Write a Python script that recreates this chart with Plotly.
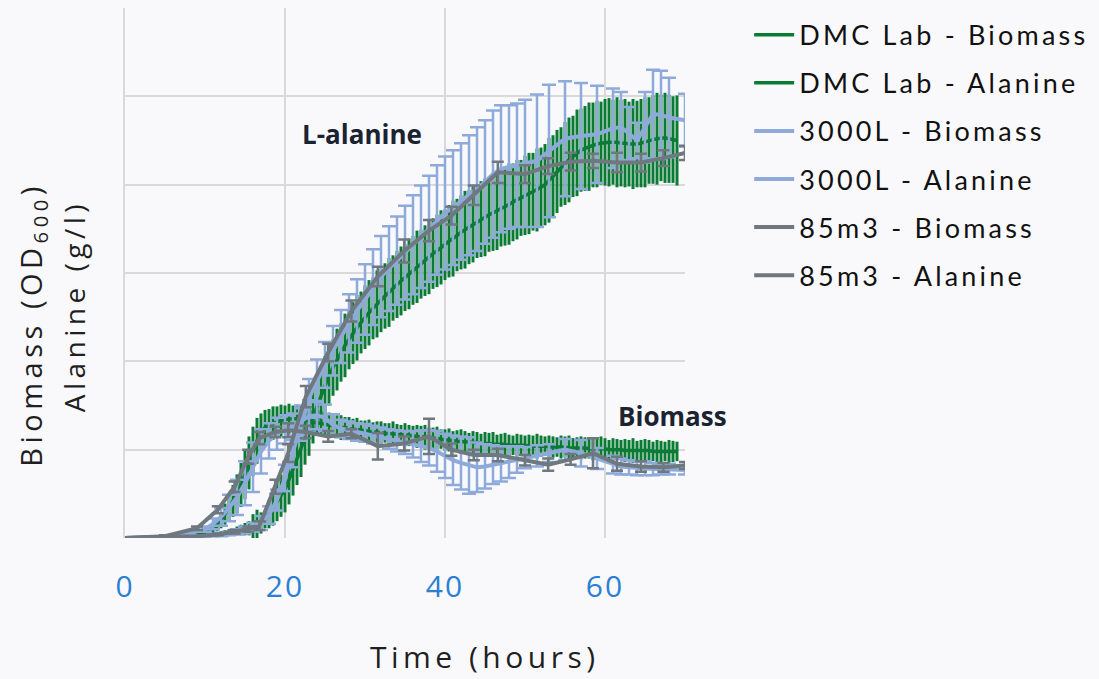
import plotly.graph_objects as go

# ---------------- DATA ----------------
green_time = [
    0, 0.5, 1, 1.5, 2, 2.5, 3, 3.5, 4, 4.5,
    5, 5.5, 6, 6.5, 7, 7.5, 8, 8.5, 9, 9.5,
    10, 10.5, 11, 11.5, 12, 12.5, 13, 13.5, 14, 14.5,
    15, 15.5, 16, 16.5, 17, 17.5, 18, 18.5, 19, 19.5,
    20, 20.5, 21, 21.5, 22, 22.5, 23, 23.5, 24, 24.5,
    25, 25.5, 26, 26.5, 27, 27.5, 28, 28.5, 29, 29.5,
    30, 30.5, 31, 31.5, 32, 32.5, 33, 33.5, 34, 34.5,
    35, 35.5, 36, 36.5, 37, 37.5, 38, 38.5, 39, 39.5,
    40, 40.5, 41, 41.5, 42, 42.5, 43, 43.5, 44, 44.5,
    45, 45.5, 46, 46.5, 47, 47.5, 48, 48.5, 49, 49.5,
    50, 50.5, 51, 51.5, 52, 52.5, 53, 53.5, 54, 54.5,
    55, 55.5, 56, 56.5, 57, 57.5, 58, 58.5, 59, 59.5,
    60, 60.5, 61, 61.5, 62, 62.5, 63, 63.5, 64, 64.5,
    65, 65.5, 66, 66.5, 67, 67.5, 68, 68.5, 69,
]
dmc_alanine = [
    0, 0, 0, 0, 0, 0, 0, 0, 0, 0,
    0, 0, 0, 0.1, 0.1, 0.1, 0.1, 0.2, 0.2, 0.2,
    0.3, 0.3, 0.4, 0.4, 0.5, 0.6, 0.6, 0.7, 0.8, 0.9,
    1.0, 1.1, 1.2, 1.4, 1.7, 2.1, 2.7, 3.4, 4.1, 4.8,
    5.5, 6.6, 7.8, 8.9, 10.0, 11.3, 12.5, 13.8, 15.0, 16.2,
    17.3, 18.4, 19.3, 20.2, 21.0, 21.8, 22.5, 23.2, 23.8, 24.4,
    25.0, 25.5, 26.0, 26.5, 26.9, 27.4, 27.8, 28.3, 28.7, 29.1,
    29.5, 29.9, 30.3, 30.7, 31.0, 31.4, 31.8, 32.2, 32.5, 32.9,
    33.2, 33.6, 33.9, 34.3, 34.6, 34.9, 35.2, 35.5, 35.8, 36.1,
    36.3, 36.6, 36.8, 37.1, 37.3, 37.5, 37.8, 38.0, 38.3, 38.5,
    38.8, 39.0, 39.2, 39.4, 39.7, 40.0, 40.5, 41.0, 41.5, 42.0,
    42.4, 42.8, 43.2, 43.6, 43.9, 44.1, 44.3, 44.5, 44.6, 44.7,
    44.8, 44.8, 44.8, 44.8, 44.7, 44.7, 44.6, 44.6, 44.6, 44.7,
    44.8, 45.0, 45.1, 45.2, 45.3, 45.3, 45.2, 45.1, 45.0,
]
dmc_alanine_err = [
    0, 0, 0, 0, 0, 0, 0, 0, 0, 0,
    0, 0, 0, 0.1, 0.1, 0.1, 0.1, 0.1, 0.1, 0.1,
    0.2, 0.2, 0.2, 0.3, 0.3, 0.3, 0.4, 0.4, 0.5, 0.6,
    0.7, 0.8, 1.5, 1.8, 1.2, 1.0, 1.6, 2.0, 2.2, 2.4,
    2.6, 2.8, 3.0, 2.9, 3.1, 3.0, 3.2, 3.1, 3.3, 3.2,
    3.3, 3.4, 3.2, 3.5, 3.3, 3.6, 3.4, 3.5, 3.7, 3.5,
    3.6, 3.7, 3.5, 3.8, 3.6, 3.7, 3.9, 3.7, 3.8, 3.9,
    3.8, 4.0, 3.9, 4.1, 3.9, 4.0, 4.2, 4.0, 4.1, 4.2,
    4.0, 4.1, 4.3, 4.1, 4.2, 4.4, 4.2, 4.3, 4.1, 4.3,
    4.4, 4.2, 4.3, 4.5, 4.3, 4.4, 4.6, 4.4, 4.5, 4.3,
    4.5, 4.6, 4.4, 4.7, 4.5, 4.6, 4.8, 4.6, 4.7, 4.5,
    4.7, 4.8, 4.6, 4.9, 4.7, 4.8, 5.0, 4.8, 4.9, 4.7,
    4.9, 5.0, 4.8, 5.1, 4.9, 5.0, 4.8, 5.1, 4.9, 5.0,
    5.1, 4.9, 5.0, 5.2, 4.9, 5.1, 5.0, 4.9, 5.1,
]
dmc_biomass = [
    0, 0, 0, 0, 0, 0, 0, 0, 0, 0,
    0, 0, 0.1, 0.1, 0.1, 0.2, 0.2, 0.3, 0.4, 0.5,
    0.6, 0.8, 1.1, 1.5, 2.0, 2.7, 3.4, 4.2, 5.0, 6.0,
    7.2, 8.5, 9.8, 11.0, 11.9, 12.5, 12.8, 13.0, 13.2, 13.3,
    13.4, 13.5, 13.5, 13.5, 13.4, 13.4, 13.3, 13.2, 13.1, 13.0,
    12.9, 12.8, 12.7, 12.6, 12.5, 12.5, 12.4, 12.3, 12.3, 12.2,
    12.1, 12.1, 12.0, 12.0, 11.9, 11.9, 11.8, 11.8, 11.7, 11.7,
    11.7, 11.6, 11.6, 11.5, 11.5, 11.4, 11.4, 11.3, 11.3, 11.2,
    11.1, 11.1, 11.0, 11.0, 10.9, 10.9, 10.8, 10.8, 10.8, 10.7,
    10.7, 10.7, 10.6, 10.6, 10.6, 10.6, 10.5, 10.5, 10.5, 10.5,
    10.5, 10.4, 10.4, 10.4, 10.4, 10.4, 10.3, 10.3, 10.3, 10.3,
    10.3, 10.2, 10.2, 10.2, 10.2, 10.2, 10.1, 10.1, 10.1, 10.1,
    10.1, 10.0, 10.0, 10.0, 10.0, 9.9, 9.9, 9.9, 9.9, 9.9,
    9.9, 9.9, 9.8, 9.8, 9.8, 9.8, 9.8, 9.8, 9.8,
]
dmc_biomass_err = [
    0, 0, 0, 0, 0, 0, 0, 0, 0, 0,
    0, 0, 0, 0, 0.1, 0.1, 0.1, 0.1, 0.2, 0.2,
    0.3, 0.4, 0.5, 0.7, 0.9, 1.2, 1.5, 1.8, 2.2, 2.5,
    2.8, 3.0, 2.8, 2.6, 2.2, 2.0, 1.8, 1.9, 1.7, 1.8,
    1.6, 1.7, 1.5, 1.6, 1.4, 1.5, 1.4, 1.3, 1.5, 1.4,
    1.3, 1.4, 1.2, 1.3, 1.4, 1.2, 1.3, 1.2, 1.3, 1.1,
    1.2, 1.3, 1.1, 1.2, 1.3, 1.1, 1.2, 1.4, 1.2, 1.1,
    1.3, 1.2, 1.1, 1.3, 1.2, 1.4, 1.1, 1.2, 1.3, 1.1,
    1.2, 1.3, 1.1, 1.2, 1.4, 1.2, 1.1, 1.3, 1.2, 1.1,
    1.3, 1.2, 1.4, 1.1, 1.2, 1.3, 1.2, 1.1, 1.3, 1.2,
    1.1, 1.3, 1.2, 1.4, 1.2, 1.1, 1.3, 1.2, 1.1, 1.3,
    1.2, 1.4, 1.1, 1.2, 1.3, 1.2, 1.1, 1.3, 1.2, 1.4,
    1.2, 1.1, 1.3, 1.2, 1.1, 1.3, 1.2, 1.4, 1.1, 1.2,
    1.3, 1.2, 1.1, 1.3, 1.2, 1.1, 1.3, 1.2, 1.1,
]

l3000_time = [
    0, 4, 8, 10, 11, 12, 13, 14, 15, 16,
    17, 18, 19, 20, 21, 22, 23, 24, 25, 26,
    27, 28, 29, 30, 31, 32, 33, 34, 35, 36,
    37, 38, 39, 40, 41, 42, 43, 44, 45, 46,
    47, 48, 49, 50, 51.5, 53, 55, 57, 59, 61,
    62, 63, 64, 65, 66, 67, 68, 70,
]
l3000_biomass = [
    0, 0.1, 0.5, 1.0, 1.6, 2.4, 3.4, 4.6, 6.2, 8.0,
    9.8, 11.0, 11.8, 12.3, 12.6, 13.2, 13.8, 13.9, 13.6, 12.8,
    12.4, 12.2, 12.0, 11.9, 11.7, 11.5, 11.2, 11.0, 10.8, 10.6,
    10.4, 10.2, 9.8, 9.3, 8.8, 8.5, 8.2, 8.0, 8.1, 8.3,
    8.4, 8.6, 8.9, 9.1, 9.3, 9.6, 10.0, 9.6, 9.0, 8.3,
    8.1, 8.0, 7.9, 7.9, 7.8, 7.8, 7.8, 7.7,
]
l3000_biomass_err = [
    0, 0, 0.2, 0.3, 0.6, 1.0, 1.5, 2.0, 2.5, 2.8,
    2.5, 2.0, 1.8, 1.6, 1.5, 1.5, 1.8, 1.6, 1.5, 1.2,
    1.0, 1.0, 1.0, 1.0, 1.0, 1.0, 1.1, 1.2, 1.3, 1.5,
    1.8, 2.0, 2.3, 2.5, 2.8, 3.0, 3.2, 2.8, 2.5, 2.2,
    2.0, 1.8, 1.5, 1.2, 1.2, 1.0, 1.2, 1.5, 1.2, 1.0,
    0.9, 0.8, 0.8, 0.8, 0.7, 0.6, 0.6, 0.5,
]
l3000_alanine = [
    0, 0, 0.1, 0.2, 0.3, 0.4, 0.5, 0.7, 0.9, 1.2,
    1.7, 2.6, 4.3, 6.8, 9.8, 13.0, 15.8, 17.8, 19.6, 21.2,
    22.8, 24.3, 25.7, 27.0, 28.4, 29.6, 30.5, 31.4, 32.3, 33.2,
    34.1, 35.0, 36.0, 36.8, 37.4, 38.1, 38.8, 39.5, 40.3, 41.2,
    41.8, 42.0, 42.2, 42.4, 42.7, 43.8, 45.2, 45.5, 45.7, 46.4,
    46.5, 45.8, 45.0, 46.5, 48.0, 47.9, 47.6, 47.3,
]
l3000_alanine_err = [
    0, 0, 0, 0.1, 0.1, 0.2, 0.2, 0.3, 0.4, 0.5,
    0.8, 1.0, 1.2, 1.5, 1.8, 2.0, 2.2, 2.4, 2.6, 2.8,
    3.0, 3.3, 3.6, 4.0, 4.3, 4.6, 4.8, 5.0, 5.3, 5.6,
    5.8, 6.0, 6.2, 6.4, 6.5, 6.6, 6.8, 7.0, 7.0, 7.2,
    7.2, 7.0, 7.0, 7.2, 7.5, 7.5, 6.5, 6.0, 5.5, 4.5,
    4.0, 3.0, 2.0, 4.0, 5.0, 5.0, 4.5, 3.0,
]

m85_time = [
    0, 5, 9, 11.6, 13.7, 15.4, 16.8, 18.8, 20.4, 22.6,
    25.4, 28.3, 31.6, 34.9, 38.0, 40.8, 43.6, 46.6, 50.0, 52.9,
    55.7, 58.5, 61.5, 64.5, 67.3, 70.0,
]
m85_biomass = [
    0, 0.2, 1.1, 3.2, 5.8, 9.2, 11.3, 12.0, 12.2, 12.0,
    11.5, 11.8, 10.4, 10.7, 11.5, 10.0, 9.4, 9.4, 8.8, 8.3,
    8.9, 9.6, 8.4, 8.1, 8.0, 8.2,
]
m85_biomass_err = [
    0, 0.1, 0.2, 0.4, 0.6, 0.8, 0.7, 0.6, 0.8, 0.7,
    0.6, 0.5, 1.5, 0.8, 2.0, 0.7, 0.6, 0.7, 0.6, 0.7,
    0.6, 1.7, 0.8, 0.6, 0.5, 0.4,
]
m85_alanine = [
    0, 0.1, 0.2, 0.4, 0.7, 1.0, 1.4, 5.8, 9.6, 16.0,
    21.0, 25.7, 29.6, 32.5, 34.8, 36.5, 38.8, 41.4, 41.2, 42.1,
    42.6, 42.7, 42.5, 42.5, 43.0, 43.6,
]
m85_alanine_err = [
    0, 0, 0, 0.1, 0.2, 0.3, 0.5, 0.8, 1.0, 1.2,
    1.0, 1.2, 1.1, 1.3, 1.2, 1.0, 1.1, 1.2, 1.0, 0.9,
    1.0, 0.8, 1.1, 1.0, 0.9, 0.8,
]

x_ticks = [0, 20, 40, 60]
x_tick_labels = ["0", "20", "40", "60"]

# ---------------- STYLE ----------------
GREEN = "#0a7b34"
BLUE = "#8eaadb"
GREY = "#6f777f"
BG = "#f9f9fc"
GRID = "#d9d9d9"

series = [
    ("DMC Lab - Biomass", green_time, dmc_biomass, dmc_biomass_err, GREEN, 3.5, 0, 3),
    ("DMC Lab - Alanine", green_time, dmc_alanine, dmc_alanine_err, GREEN, 3.5, 0, 3),
    ("3000L - Biomass", l3000_time, l3000_biomass, l3000_biomass_err, BLUE, 4, 7, 2.5),
    ("3000L - Alanine", l3000_time, l3000_alanine, l3000_alanine_err, BLUE, 4, 7, 2.5),
    ("85m3 - Biomass", m85_time, m85_biomass, m85_biomass_err, GREY, 4, 6, 2.5),
    ("85m3 - Alanine", m85_time, m85_alanine, m85_alanine_err, GREY, 4, 6, 2.5),
]

fig = go.Figure()
for i, (name, t, y, e, col, lw, capw, eth) in enumerate(series):
    fig.add_trace(go.Scatter(
        x=t, y=y, name=name, mode="lines",
        line=dict(color=col, width=lw),
        error_y=dict(type="data", array=e, visible=True, color=col,
                     thickness=eth, width=capw),
        legendgroup=f"g{i}",
    ))


def px_ann(text, px, py, size, color, angle=0, bold=False):
    return dict(
        text=f"<b>{text}</b>" if bold else text,
        xref="paper", yref="paper",
        x=(px - 125) / 560, y=(538 - py) / 530,
        xanchor="center", yanchor="middle",
        showarrow=False, textangle=angle,
        font=dict(family="Open Sans", size=size, color=color),
    )


fig.update_layout(
    width=1099, height=679,
    margin=dict(l=125, r=414, t=8, b=141),
    paper_bgcolor=BG, plot_bgcolor=BG,
    font=dict(family="Open Sans", color="#222222"),
    showlegend=True,
    legend=dict(
        x=1.1146, y=0.995, xanchor="left", yanchor="top",
        font=dict(family="Lato", size=27, color="#111111"),
        bgcolor="rgba(0,0,0,0)", tracegroupgap=10,
        itemwidth=40,
    ),
    xaxis=dict(
        range=[0, 70], tickvals=x_ticks, ticktext=x_tick_labels,
        showgrid=True, gridcolor=GRID, gridwidth=2,
        zeroline=False, showline=False,
        ticks="outside", ticklen=22, tickcolor="rgba(0,0,0,0)",
        tickfont=dict(family="Open Sans", size=30, color="#2b7fd3"),
    ),
    yaxis=dict(
        range=[0, 60], dtick=10,
        showgrid=True, gridcolor=GRID, gridwidth=2,
        zeroline=False, showline=True, linecolor=GRID, linewidth=2,
        showticklabels=False, ticks="",
    ),
    annotations=[
        px_ann("Time (hours)", 485, 656, 30, "#1f1f1f"),
        px_ann("Biomass (OD<sub>600</sub>)", 32, 325, 29, "#1f1f1f", angle=-90),
        px_ann("Alanine (g/l)", 74, 306, 28, "#1f1f1f", angle=-90),
        px_ann("L-alanine", 362, 134, 26, "#1b2330", bold=True),
        px_ann("Biomass", 672, 416, 26, "#1b2330", bold=True),
    ],
)

post = """
document.body.style.margin = '0';
document.body.style.background = '#f9f9fc';
var gd = document.getElementById('{plot_id}');
gd.querySelectorAll('.legend [clip-path]').forEach(function(el){ el.removeAttribute('clip-path'); });
gd.querySelectorAll('.legend').forEach(function(el){ el.removeAttribute('clip-path'); });
gd.querySelectorAll('.legendtext').forEach(function(t){ t.style.letterSpacing = '3.2px'; });
gd.querySelectorAll('.xtick text').forEach(function(t){ t.style.letterSpacing = '2px'; });
['0', '1', '2'].forEach(function(k){
  gd.querySelectorAll('.annotation[data-index="' + k + '"] text').forEach(function(t){
    t.style.letterSpacing = '4.5px';
  });
});
"""

fig.write_html("out.html", post_script=post, config={"displayModeBar": False})
